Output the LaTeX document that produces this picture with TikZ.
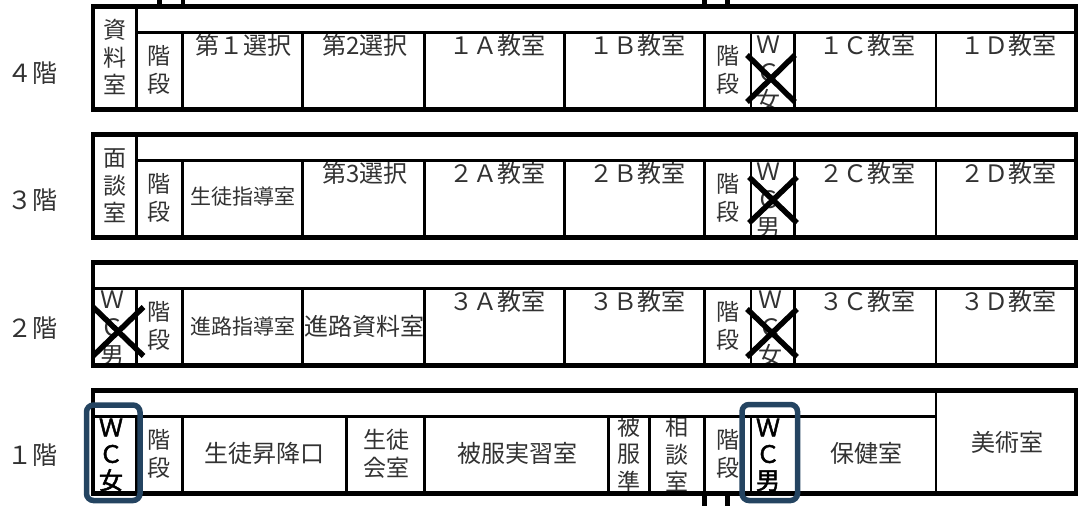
\documentclass[tikz,border=0pt]{standalone}
\usepackage{fontspec}
\setmainfont{Noto Sans CJK JP}
\newfontfamily\wcbold[FakeBold=2]{Noto Sans CJK JP}
\definecolor{markColor}{RGB}{36, 68, 97}
\definecolor{textColor}{RGB}{50, 50, 50}
\tikzstyle{wall} = [draw=black, line width=4.5pt]
\tikzstyle{thinwall} = [draw=black, line width=2.8pt]
\tikzstyle{room} = [inner sep=0pt, align=center, text=textColor, font=\fontsize{24}{28}\selectfont]
\tikzstyle{small} = [room, font=\fontsize{21}{26}\selectfont]
\tikzstyle{tall} = [room, font=\fontsize{23}{27.5}\selectfont]
\tikzstyle{wc} = [room, font=\fontsize{24}{28}\selectfont]
\tikzstyle{wcopen} = [room, text=black, font=\wcbold\fontsize{24}{26.5}\selectfont]
\tikzstyle{floorname} = [room, font=\fontsize{25}{28}\selectfont]
\tikzstyle{closed} = [draw=black, line width=5.5pt]
\tikzstyle{wcmark} = [draw=markColor, line width=5.5pt, rounded corners=7pt]
\begin{document}
\begin{tikzpicture}[x=1pt, y=-1pt]
	\useasboundingbox (0,0) rectangle (1080,506);

	% floor names
	\node (f4) [floorname] at (33,73) {４階};
	\node (f3) [floorname] at (33,200) {３階};
	\node (f2) [floorname] at (33,328) {２階};
	\node (f1) [floorname] at (33,455) {１階};

	% 4th floor
	\node (shiryo) [tall] at (115,57) {資\\料\\室};
	\node (st4a) [tall] at (159,70) {階\\段};
	\node (sen1) [room] at (243.5,45) {第１選択};
	\node (sen2) [room] at (365,45) {第2選択};
	\node (c1a) [room] at (497,45) {１Ａ教室};
	\node (c1b) [room] at (637,45) {１Ｂ教室};
	\node (st4b) [tall] at (728,70) {階\\段};
	\node (wc4) [wc] at (768,74) {Ｗ\\Ｃ\\女};
	\node (c1c) [room] at (867,45) {１Ｃ教室};
	\node (c1d) [room] at (1008,45) {１Ｄ教室};

	% 3rd floor
	\node (mendan) [tall] at (115,186) {面\\談\\室};
	\node (st3a) [tall] at (159,198) {階\\段};
	\node (shido) [small] at (243,197) {生徒指導室};
	\node (sen3) [room] at (365,173) {第3選択};
	\node (c2a) [room] at (497,173) {２Ａ教室};
	\node (c2b) [room] at (637,173) {２Ｂ教室};
	\node (st3b) [tall] at (728,198) {階\\段};
	\node (wc3) [wc] at (768,201) {Ｗ\\Ｃ\\男};
	\node (c2c) [room] at (867,173) {２Ｃ教室};
	\node (c2d) [room] at (1008,173) {２Ｄ教室};

	% 2nd floor
	\node (wc2a) [wc] at (112,329) {Ｗ\\Ｃ\\男};
	\node (st2a) [tall] at (159,326) {階\\段};
	\node (shinro) [small] at (243,326) {進路指導室};
	\node (shinroshi) [room] at (364,326) {進路資料室};
	\node (c3a) [room] at (497,301) {３Ａ教室};
	\node (c3b) [room] at (637,301) {３Ｂ教室};
	\node (st2b) [tall] at (728,326) {階\\段};
	\node (wc2b) [wc] at (770,329) {Ｗ\\Ｃ\\女};
	\node (c3c) [room] at (867,301) {３Ｃ教室};
	\node (c3d) [room] at (1008,301) {３Ｄ教室};

	% 1st floor
	\node (wc1a) [wcopen] at (111,455) {Ｗ\\Ｃ\\女};
	\node (st1a) [tall] at (159,454) {階\\段};
	\node (shoko) [room] at (264,453) {生徒昇降口};
	\node (seito) [tall] at (386,454) {生徒\\会室};
	\node (hifuku) [room] at (517,453) {被服実習室};
	\node (hijun) [tall] at (629,454) {被\\服\\準};
	\node (sodan) [tall] at (677,454) {相\\談\\室};
	\node (st1b) [tall] at (728,454) {階\\段};
	\node (wc1b) [wcopen] at (768,455) {Ｗ\\Ｃ\\男};
	\node (hoken) [room] at (866,453) {保健室};
	\node (bijutsu) [room] at (1007,442) {美術室};

	% outer walls and corridors
	\foreach \t/\b in {6.5/109.5, 134.5/237.5, 262.3/365.5, 390.3/493.5} {
		\draw[wall] (93,\t) rectangle (1076,\b);
	}
	\draw[thinwall] (136.7,32.5) -- (1076,32.5);
	\draw[thinwall] (136.7,160.5) -- (1076,160.5);
	\draw[thinwall] (93,288.7) -- (1076,288.7);
	\draw[thinwall] (93,416.3) -- (936,416.3);

	% room walls of the upper floors
	\foreach \c/\b in {32.5/109.5, 160.5/237.5, 288.7/365.5} {
		\foreach \x in {136.7,182.5,302.5,424.5,564.6,704.5,751,794.5,936} {
			\draw[thinwall] (\x,\c) -- (\x,\b);
		}
	}
	\draw[thinwall] (136.7,6.5) -- (136.7,32.5);
	\draw[thinwall] (136.7,134.5) -- (136.7,160.5);

	% room walls of the 1st floor
	\foreach \x in {136.7,182.5,346.3,424.5,608.5,649.5,704.5,751} {
		\draw[thinwall] (\x,416.3) -- (\x,493.5);
	}
	\draw[thinwall] (936,390.3) -- (936,493.5);

	% stairs running off the picture
	\draw[wall] (159.5,0) -- (159.5,6.5);
	\draw[wall] (183,0) -- (183,6.5);
	\draw[wall] (704.5,0) -- (704.5,6.5);
	\draw[wall] (727.5,0) -- (727.5,6.5);
	\draw[wall] (704.5,493.5) -- (704.5,506);
	\draw[wall] (727.5,493.5) -- (727.5,506);

	% closed toilets
	\draw[closed] (747,55) -- (795,102);
	\draw[closed] (795,55) -- (747,102);
	\draw[closed] (749,177) -- (797,223);
	\draw[closed] (797,177) -- (749,223);
	\draw[closed] (93,307) -- (143.5,356);
	\draw[closed] (143.5,307) -- (93,356);
	\draw[closed] (747,309) -- (797,357);
	\draw[closed] (797,309) -- (747,357);

	% open toilets
	\draw[wcmark] (86.5,405) rectangle (140,500.5);
	\draw[wcmark] (742,404.5) rectangle (797.5,500.5);
\end{tikzpicture}
\end{document}
